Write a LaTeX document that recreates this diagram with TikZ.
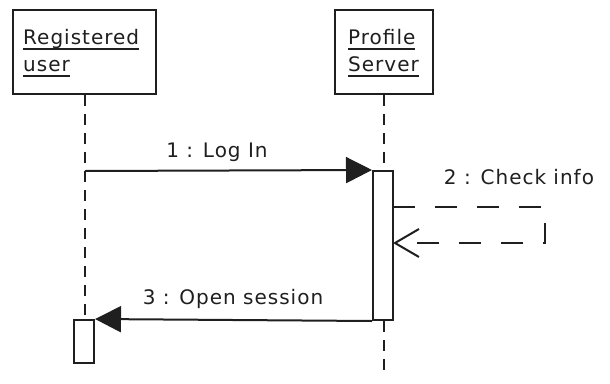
\documentclass[tikz,border=0pt]{standalone}
\usepackage{fontspec}
\setmainfont{DejaVu Sans}[LetterSpace=5]
\usetikzlibrary{arrows.meta}
\definecolor{ink}{gray}{0.12}
% word with a heavy underline, as in the object header boxes
\newcommand\ulword[1]{\setbox0\hbox{#1}\rlap{\rule[-5.6pt]{\wd0}{1.9pt}}\box0}
\begin{document}
\begin{tikzpicture}[x=1pt,y=-1pt,
  every node/.style={font=\fontsize{20}{27}\selectfont, text=ink},
  objbox/.style={draw=ink, line width=2pt, fill=white, inner sep=0pt},
  objname/.style={anchor=base west, inner sep=0pt},
  actbox/.style={draw=ink, line width=2pt, fill=white, minimum width=20pt, inner sep=0pt},
  lifeline/.style={draw=ink, line width=1.6pt, dash pattern=on 11pt off 8pt},
  syncmsg/.style={draw=ink, line width=2pt, -{Triangle[length=26pt,width=26pt]}},
  replymsg/.style={draw=ink, line width=2pt, dash pattern=on 22pt off 20pt,
    -{Straight Barb[length=24pt,width=28pt,line width=2pt]}},
  lbl/.style={inner sep=0pt}]
\useasboundingbox (0,0) rectangle (610,383);

% participants
\node[objbox, minimum width=143pt, minimum height=84pt] (user) at (84.5,52) {};
\node[objname] (userA) at (23,44) {\ulword{Registered}};
\node[objname] (userB) at (23,71) {\ulword{user}};
\node[objbox, minimum width=98pt, minimum height=84pt] (server) at (384,52) {};
\node[objname] (serverA) at (348,44) {\ulword{Profile}};
\node[objname] (serverB) at (348,71) {\ulword{Server}};

% activation bars
\node[actbox, minimum height=149pt] (actS) at (383,245.5) {};
\node[actbox, minimum height=43pt] (actU) at (84,341.5) {};

% lifelines
\coordinate (srvEnd) at (384,372);
\draw[lifeline] (user.south -| 85,0) -- (actU.north -| 85,0);
\draw[lifeline] (server.south) -- (actS.north -| server.south);
\draw[lifeline] (actS.south -| server.south) -- (srvEnd);

% 1: Log In
\coordinate (m1start) at (85,171);
\draw[syncmsg] (m1start) -- (actS.north west);
\node[lbl] (l1) at (217,152) {1 : Log In};

% 2: Check info (self call)
\coordinate (m2a) at (393,207);
\coordinate (m2b) at (545,207);
\coordinate (m2c) at (545,243);
\coordinate (m2d) at (393,243);
\draw[replymsg] (m2a) -- (m2b) -- (m2c) -- (m2d);
\node[lbl] (l2) at (519,177) {2 : Check info};

% 3: Open session
\draw[syncmsg] (actS.south west) -- (actU.north east);
\node[lbl] (l3) at (233,299) {3 : Open session};
\end{tikzpicture}
\end{document}
